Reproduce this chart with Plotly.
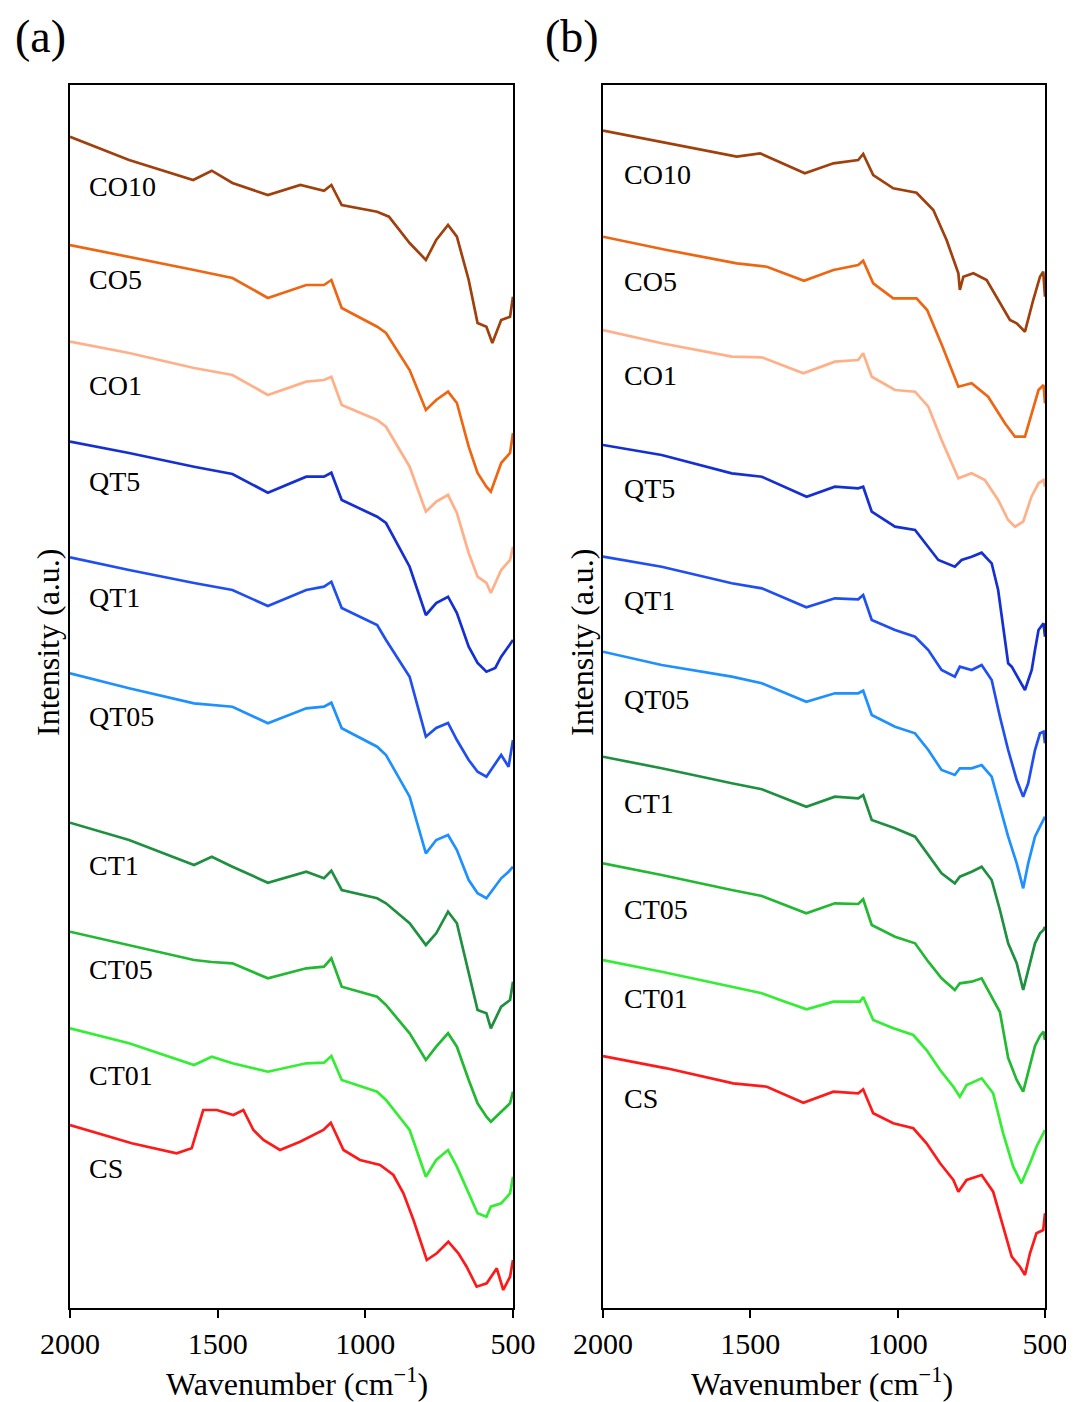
import plotly.graph_objects as go

# ---------------- Panel (a) data ----------------
a_names = ["CO10", "CO5", "CO1", "QT5", "QT1", "QT05", "CT1", "CT05", "CT01", "CS"]
a_colors = ["#A0400C", "#EE6612", "#FFB088", "#1530D2", "#1F4FF0", "#1E90FF",
            "#1E9040", "#22B832", "#33EE33", "#FF1A1A"]

wn_std = [2000, 1800, 1580, 1450, 1330, 1200, 1140, 1115, 1080, 960, 930, 850,
          795, 760, 720, 690, 650, 620, 590, 575, 540, 510, 500]

a_CO10_x = [2000, 1800, 1583, 1520, 1450, 1330, 1220, 1140, 1115, 1080, 960, 920, 850,
            795, 760, 720, 690, 650, 620, 590, 570, 540, 510, 500]
a_CO10_y = [1171.3, 1148, 1128, 1137.3, 1125, 1113, 1123, 1117.3, 1123, 1103, 1096.3, 1091.3, 1065,
            1048, 1068, 1083, 1071.3, 1028, 985, 981.3, 965, 988, 991.3, 1011.3]

a_CO5_y = [1063, 1051.3, 1038, 1030, 1010, 1023, 1023, 1028, 1000, 981.3, 975, 938,
           898, 908, 916.3, 905, 861.3, 835, 821.3, 816.3, 845, 855, 875]
a_CO1_y = [966.3, 955, 940, 933, 913, 926.3, 928, 931.3, 903, 888, 881.3, 841.3,
           796.3, 806.3, 813, 795, 755, 731.3, 725, 715, 738, 748, 761.3]

wn_qt = [2000, 1800, 1580, 1450, 1330, 1200, 1140, 1115, 1080, 960, 930, 850,
         795, 760, 720, 690, 650, 620, 590, 560, 540, 515, 500]
a_QT5_y = [866.3, 855, 841.3, 834, 815.3, 831.3, 831.3, 835.3, 808, 791.3, 785, 741.3,
           693, 705, 711.3, 695, 661.3, 645, 636.3, 640, 651.3, 661.3, 668]
a_QT1_y = [750.7, 738, 725, 718, 702, 718, 721.3, 726.3, 700, 683, 668, 631.3,
           571.3, 580, 585, 568, 548, 536.3, 531.3, 545, 553, 541.3, 568]
a_QT05_y = [634.7, 619.7, 604.7, 601.3, 584.7, 599.7, 601.3, 605.3, 579.7, 561.3, 553, 511.3,
            454.7, 468, 473, 458, 428, 414.7, 409.7, 421.3, 429.7, 436.3, 441.3]

wn_ct = [2000, 1800, 1580, 1520, 1450, 1330, 1200, 1140, 1115, 1080, 960, 930, 850,
         795, 760, 720, 690, 650, 620, 590, 575, 540, 510, 500]
a_CT1_y = [485.3, 468, 443, 451.3, 441.3, 425.3, 436.3, 429.7, 437.3, 418, 409.7, 404.7, 384.7,
           363, 374.7, 396.3, 384.7, 334.7, 298, 294.7, 279.7, 301.3, 308, 326.3]
a_CT05_y = [376.3, 363, 348, 346, 344.7, 329.7, 339.7, 341.3, 349.7, 321.3, 311.3, 303, 274.7,
            248, 261.3, 274.7, 261.3, 228, 204.7, 191.3, 186.3, 196.3, 204.7, 216.3]
a_CT01_y = [279.7, 264.7, 243, 251.3, 244.7, 236.3, 244.7, 245.3, 252, 228, 216.3, 208, 178,
            131.3, 148, 158, 141.3, 114.7, 94.7, 91.3, 101.3, 104.7, 114.7, 131.3]

a_CS_x = [2000, 1791, 1639, 1588, 1549, 1503, 1447, 1413, 1379, 1345, 1289, 1221, 1142, 1117,
          1074, 1018, 950, 905, 871, 837, 792, 758, 719, 685, 657, 623, 589, 555, 533, 510, 500]
a_CS_y = [183, 164.7, 154.7, 159.7, 198, 198, 193, 198, 178, 168, 158, 166.3, 178, 185.3,
          158, 148, 143, 133, 114.7, 88, 48, 54.7, 66.3, 54.7, 41.3, 21.3, 24.7, 39.7, 18, 31.3, 48]

a_x = [a_CO10_x, wn_std, wn_std, wn_qt, wn_qt, wn_qt, wn_ct, wn_ct, wn_ct, a_CS_x]
a_y = [a_CO10_y, a_CO5_y, a_CO1_y, a_QT5_y, a_QT1_y, a_QT05_y, a_CT1_y, a_CT05_y, a_CT01_y, a_CS_y]
a_label_y = [1121, 1028, 922, 826, 710, 591, 442, 338, 233, 140]

# ---------------- Panel (b) data ----------------
b_CO10_x = [2000, 1784, 1546, 1467, 1315, 1218, 1134, 1117, 1083, 1015, 936, 879, 834, 794, 789,
            777, 743, 698, 653, 619, 596, 568, 540, 517, 506, 500]
b_CO10_y = [1177.3, 1164.7, 1151.3, 1154.7, 1134.7, 1144.7, 1148, 1154, 1133, 1119.7, 1115.3, 1098,
            1068, 1034.7, 1018, 1031.3, 1034.7, 1028, 1004.7, 988, 984.7, 976.3, 1008, 1031.3, 1036.3, 1011.3]

b_CO5_x = [2000, 1784, 1546, 1444, 1318, 1218, 1134, 1117, 1083, 1015, 936, 900, 850, 794,
           749, 693, 636, 602, 568, 545, 522, 505, 500]
b_CO5_y = [1071.3, 1058, 1044.7, 1041.3, 1027.3, 1038, 1043, 1047.3, 1024.7, 1009.7, 1009.7, 998, 963,
           921.3, 924.7, 911.3, 884.7, 871.3, 871.3, 894.7, 918, 923, 904.7]

b_CO1_x = [2000, 1801, 1563, 1461, 1320, 1213, 1134, 1117, 1088, 1009, 941, 896, 851, 794,
           749, 704, 659, 625, 602, 574, 546, 522, 505, 500]
b_CO1_y = [978, 964.7, 951.3, 950.7, 934.7, 946.3, 948, 954.7, 931.3, 918, 916.3, 901.3, 868, 829.7,
           834.7, 828, 808, 788, 781.3, 786.3, 811.3, 824.7, 828, 821.3]

b_QT5_x = [2000, 1801, 1563, 1461, 1309, 1213, 1134, 1117, 1088, 1009, 941, 896, 862, 806, 783,
           749, 715, 681, 659, 625, 613, 568, 545, 534, 522, 505, 500]
b_QT5_y = [863, 853, 834.7, 831.3, 811.3, 821.3, 819.7, 821.3, 796.3, 781.3, 778, 761.3, 748, 741.3, 748,
           751.3, 755.3, 744.7, 718, 644.7, 641.3, 618, 638, 658, 678, 684.7, 671.3]

b_mid_x = [2000, 1801, 1563, 1461, 1310, 1213, 1134, 1117, 1088, 1009, 941, 896, 851, 806, 789,
           749, 715, 681, 653, 625, 596, 574, 557, 534, 517, 505, 500]
b_QT1_y = [751.3, 741.3, 724.7, 719.7, 700.7, 709.7, 708.7, 713, 688, 678, 671.3, 658, 638, 631.3, 641.3,
           638, 643, 628, 591.3, 558, 528, 511.3, 524.7, 558, 574.7, 576.3, 564.7]
b_QT05_y = [656.3, 643, 631.3, 624.7, 606.3, 614.7, 614.7, 617.3, 593, 581.3, 574.7, 558, 538, 533, 539.7,
            539.7, 543, 531.3, 501.3, 471.3, 444.7, 419.7, 444.7, 471.3, 481.3, 488, 491.3]
b_CT1_y = [551.3, 539.7, 524.7, 518.7, 501.3, 511.3, 509.7, 513, 488, 479.7, 471.3, 453, 434.7, 424.7, 431.3,
           436.3, 441.3, 428, 398, 364.7, 344.7, 318, 338, 364.7, 374.7, 378, 381.3]
b_CT05_y = [444.7, 433, 418, 412, 394.7, 404.7, 404, 408.7, 383, 371.3, 364.7, 346.3, 329.7, 318, 324.7,
            326.3, 329.7, 311.3, 296, 250, 228, 216.3, 236, 262, 272, 276.3, 268]

b_CT01_x = [2000, 1801, 1563, 1461, 1399, 1309, 1218, 1128, 1117, 1083, 1015, 947, 902, 856, 811,
            789, 766, 715, 676, 642, 608, 580, 551, 529, 500]
b_CT01_y = [348, 336.3, 321.3, 314.7, 308, 298.7, 306.3, 306.3, 311, 288, 279.7, 273, 258, 238, 221.3,
            211.3, 223, 229.7, 214.7, 174.7, 141.3, 124.7, 144.7, 161.3, 178]

b_CS_x = [2000, 1784, 1558, 1444, 1320, 1218, 1134, 1117, 1083, 1015, 947, 902, 856, 811, 794,
          766, 715, 676, 642, 613, 585, 568, 551, 529, 506, 500]
b_CS_y = [252, 239.7, 224.7, 221.3, 205.3, 216.3, 214.7, 218.7, 194.7, 184.7, 179.7, 164.7, 144.7, 128,
          116.3, 128, 133, 116.3, 81.3, 51.3, 41.3, 33, 54.7, 74.7, 78, 94.7]

b_x = [b_CO10_x, b_CO5_x, b_CO1_x, b_QT5_x, b_mid_x, b_mid_x, b_mid_x, b_mid_x, b_CT01_x, b_CS_x]
b_y = [b_CO10_y, b_CO5_y, b_CO1_y, b_QT5_y, b_QT1_y, b_QT05_y, b_CT1_y, b_CT05_y, b_CT01_y, b_CS_y]
b_label_y = [1133, 1026, 932, 819, 707, 608, 504, 398, 309, 210]

x_ticks = [2000, 1500, 1000, 500]
FONT = "Liberation Serif"

# page has an 8px body margin; figure drawn inside it
OFF = 8
W, H = 1074 - OFF, 1402 - OFF


def px(x):
    return (x - OFF) / W


def py(y):
    return 1 - (y - OFF) / H


fig = go.Figure()
for i, name in enumerate(a_names):
    fig.add_trace(go.Scatter(x=a_x[i], y=a_y[i], mode="lines", name=name,
                             line=dict(color=a_colors[i], width=2.7),
                             xaxis="x", yaxis="y", showlegend=False))
    fig.add_trace(go.Scatter(x=b_x[i], y=b_y[i], mode="lines", name=name,
                             line=dict(color=a_colors[i], width=2.7),
                             xaxis="x2", yaxis="y2", showlegend=False))

annotations = []
for i, name in enumerate(a_names):
    annotations.append(dict(x=1942, y=a_label_y[i], xref="x", yref="y", text=name,
                            showarrow=False, xanchor="left", yanchor="middle",
                            font=dict(family=FONT, size=28, color="black")))
    annotations.append(dict(x=1936, y=b_label_y[i], xref="x2", yref="y2", text=name,
                            showarrow=False, xanchor="left", yanchor="middle",
                            font=dict(family=FONT, size=28, color="black")))

# panel letters
annotations.append(dict(x=px(40), y=py(37), xref="paper", yref="paper", text="(a)",
                        showarrow=False, xanchor="center", yanchor="middle",
                        font=dict(family=FONT, size=46, color="black")))
annotations.append(dict(x=px(572), y=py(37), xref="paper", yref="paper", text="(b)",
                        showarrow=False, xanchor="center", yanchor="middle",
                        font=dict(family=FONT, size=46, color="black")))
# axis titles
for cx in (297, 822):
    annotations.append(dict(x=px(cx), y=py(1382), xref="paper", yref="paper",
                            text="Wavenumber (cm<sup>\u22121</sup>)", showarrow=False,
                            xanchor="center", yanchor="middle",
                            font=dict(family=FONT, size=32, color="black")))
for cx in (48, 582):
    annotations.append(dict(x=px(cx), y=py(642), xref="paper", yref="paper",
                            text="Intensity (a.u.)", showarrow=False, textangle=-90,
                            xanchor="center", yanchor="middle",
                            font=dict(family=FONT, size=32, color="black")))

xaxis_common = dict(range=[2000, 500], tickvals=x_ticks, ticktext=[str(t) for t in x_ticks],
                    ticks="outside", ticklen=8, tickwidth=2, tickcolor="black",
                    showline=True, linecolor="black", linewidth=2, mirror=True,
                    showgrid=False, zeroline=False, automargin=False,
                    tickfont=dict(family=FONT, size=30, color="black"))
yaxis_common = dict(range=[0, 1223], showticklabels=False, ticks="",
                    showline=True, linecolor="black", linewidth=2, mirror=True,
                    showgrid=False, zeroline=False, automargin=False)

y_dom = [py(1308), py(85)]
fig.update_layout(
    width=W, height=H,
    margin=dict(l=0, r=0, t=0, b=0),
    paper_bgcolor="white", plot_bgcolor="white",
    xaxis=dict(domain=[px(70), px(513)], anchor="y", **xaxis_common),
    yaxis=dict(domain=y_dom, anchor="x", **yaxis_common),
    xaxis2=dict(domain=[px(603), px(1045)], anchor="y2", **xaxis_common),
    yaxis2=dict(domain=y_dom, anchor="x2", **yaxis_common),
    annotations=annotations,
    font=dict(family=FONT, color="black"),
)

fig.write_html("out.html")
